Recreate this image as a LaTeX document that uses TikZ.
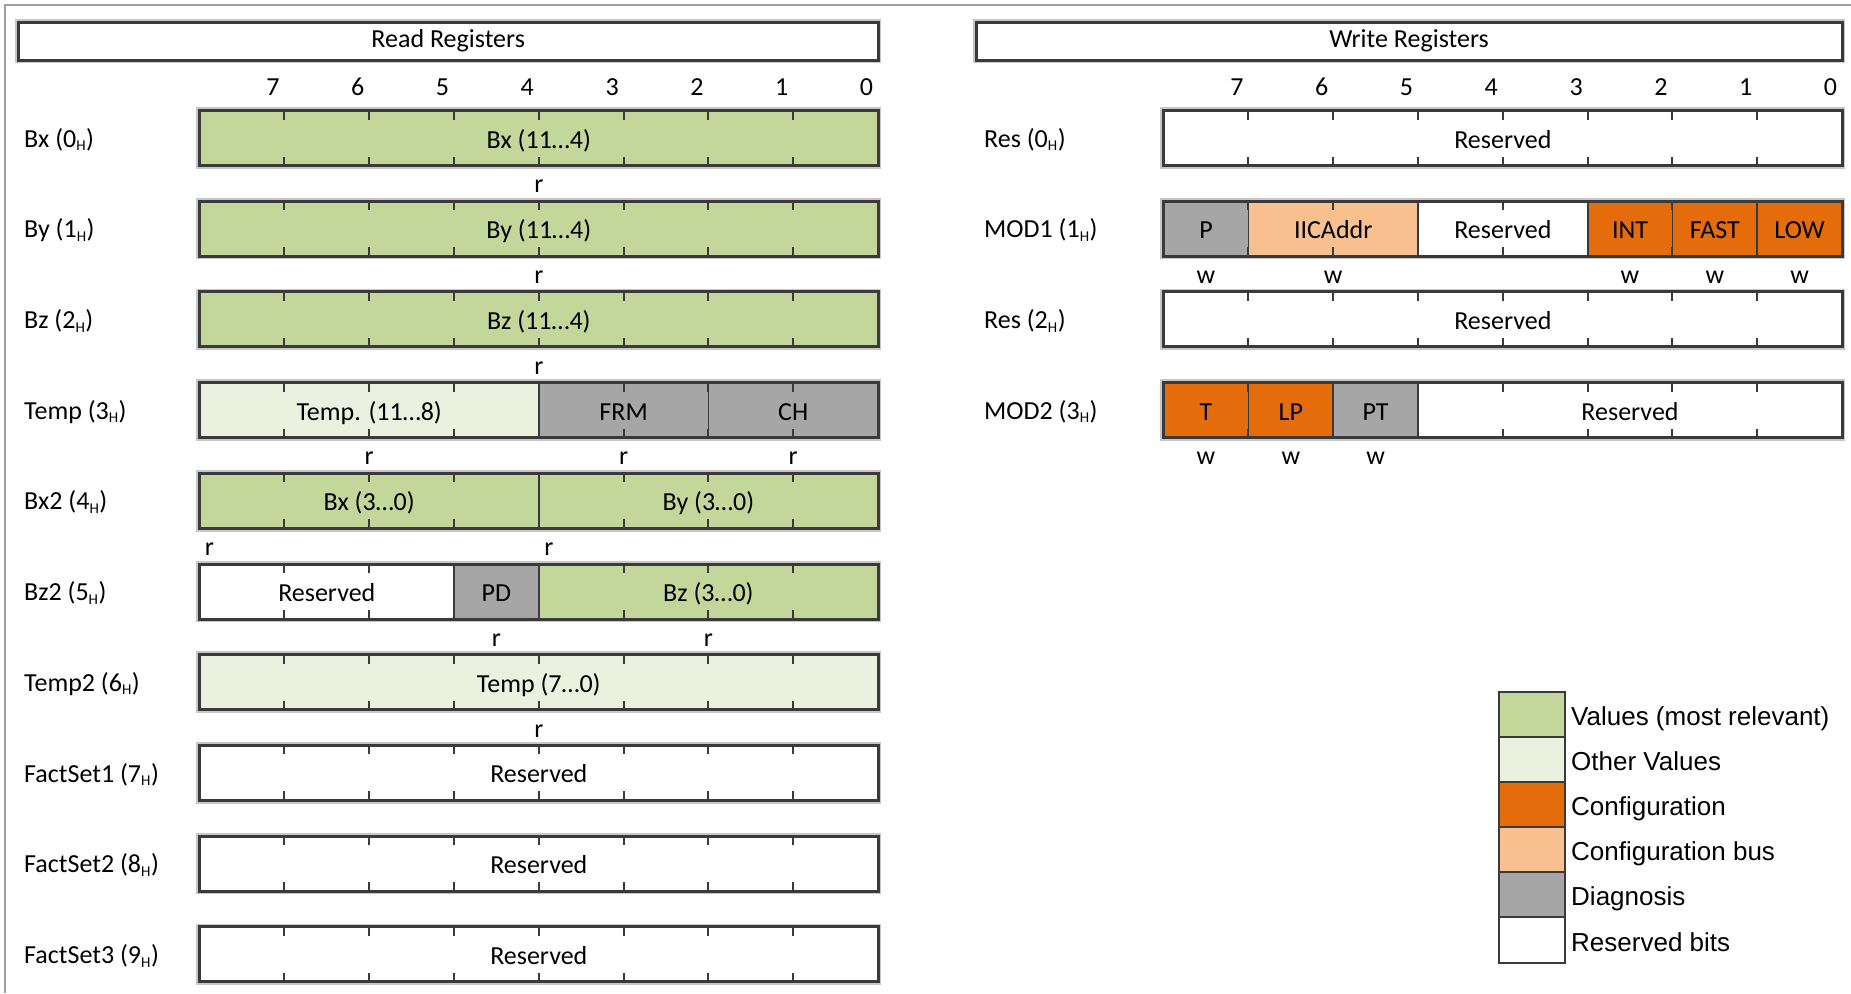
\documentclass[tikz,border=0pt]{standalone}
\usepackage{fontspec}
\setmainfont{Carlito}
\newfontfamily\legfont{Liberation Sans}
\definecolor{valg}{HTML}{C4D79B}
\definecolor{otherg}{HTML}{EBF1DE}
\definecolor{conf}{HTML}{E46C0A}
\definecolor{cbus}{HTML}{F9C08F}
\definecolor{diag}{HTML}{A6A6A6}
\definecolor{edge}{HTML}{3A3A3A}
\definecolor{frame}{HTML}{A0A0A0}

\newcommand\halobar[2]{%
  \pgfmathsetmacro\rt{110.5+90.7*#2}%
  \draw[halo] (#1,\rt) rectangle ++(678.4,55);}
\newcommand\fld[7]{%
  \pgfmathsetmacro\fx{#2+84.8*(#4+#5/2)}%
  \pgfmathsetmacro\fy{110.5+90.7*#3+27.5}%
  \pgfmathsetmacro\fw{84.8*#5}%
  \node[fieldbox, fill=#6, minimum width=\fw pt, minimum height=55pt] (#1) at (\fx,\fy) {#7};}
\newcommand\frm[2]{%
  \pgfmathsetmacro\rt{110.5+90.7*#2}%
  \foreach \k in {1,...,7}{%
    \draw[tickline] (#1+84.8*\k,\rt) -- ++(0,9);
    \draw[tickline] (#1+84.8*\k,\rt+55) -- ++(0,-9);}
  \draw[barline] (#1,\rt) rectangle ++(678.4,55);}
\newcommand\rlbl[3]{% name, x, row
  \pgfmathsetmacro\ly{186.5+90.7*#3}%
  \node[txt] (#1) at (#2,\ly) {r};}
\newcommand\wlbl[3]{%
  \pgfmathsetmacro\ly{277.2+90.7*(#3-1)}%
  \node[txt] (#1) at (#2,\ly) {w};}
\newcommand\rowlbl[4]{% name, x, row, text
  \pgfmathsetmacro\ly{139.5+90.7*#3}%
  \node[txt, anchor=west] (#1) at (#2,\ly) {#4};}
\newcommand\Hs{\textsubscript{\fontsize{15}{15}\selectfont H}}

\begin{document}
\begin{tikzpicture}[x=1pt,y=-1pt,
  txt/.style={font=\fontsize{26}{31}\selectfont, inner sep=0pt},
  fieldbox/.style={draw=edge, line width=1.8pt, inner sep=0pt, txt, text height=22pt, text depth=2pt},
  tickline/.style={draw=edge, line width=2pt},
  halo/.style={draw=black!22, line width=6.5pt},
  barline/.style={draw=edge, line width=3pt},
  legbox/.style={draw=edge, line width=2pt, minimum width=66pt, minimum height=45.1pt, inner sep=0pt},
  legtxt/.style={font=\legfont\fontsize{26}{31}\selectfont, inner sep=0pt, anchor=base west}]
\useasboundingbox (0,0) rectangle (1851,993);
\fill[white] (0,0) rectangle (1851,993);
% outer frame
\draw[frame, line width=2pt] (4.5,993) -- (4.5,5) -- (1851,5);

% title boxes
\draw[halo] (18.4,22) rectangle (878,60);
\draw[halo] (976,22) rectangle (1842,60);
\node[draw=edge, line width=3pt, fill=white, minimum width=859.6pt, minimum height=38pt, txt] (readtitle) at (448.2,41) {Read Registers};
\node[draw=edge, line width=3pt, fill=white, minimum width=866pt, minimum height=38pt, txt] (writetitle) at (1409,41) {Write Registers};

% bit numbers
\foreach \k/\b in {1/7,2/6,3/5,4/4,5/3,6/2,7/1,8/0}{
  \node[txt] (rb\b) at (199.6+84.8*\k-11.5,87) {\b};
  \node[txt] (wb\b) at (1163.6+84.8*\k-11.5,87) {\b};
}

% halos
\foreach \r in {0,...,9}{\halobar{199.6}{\r}}
\foreach \r in {0,...,3}{\halobar{1163.6}{\r}}

% ---- read registers ----
\fld{fBx}{199.6}{0}{0}{8}{valg}{Bx (11…4)}
\fld{fBy}{199.6}{1}{0}{8}{valg}{By (11…4)}
\fld{fBz}{199.6}{2}{0}{8}{valg}{Bz (11…4)}
\fld{fTemp}{199.6}{3}{0}{4}{otherg}{Temp. (11…8)}
\fld{fFRM}{199.6}{3}{4}{2}{diag}{FRM}
\fld{fCH}{199.6}{3}{6}{2}{diag}{CH}
\fld{fBxl}{199.6}{4}{0}{4}{valg}{Bx (3…0)}
\fld{fByl}{199.6}{4}{4}{4}{valg}{By (3…0)}
\fld{fRes5}{199.6}{5}{0}{3}{white}{Reserved}
\fld{fPD}{199.6}{5}{3}{1}{diag}{PD}
\fld{fBzl}{199.6}{5}{4}{4}{valg}{Bz (3…0)}
\fld{fTempl}{199.6}{6}{0}{8}{otherg}{Temp (7…0)}
\fld{fFS1}{199.6}{7}{0}{8}{white}{Reserved}
\fld{fFS2}{199.6}{8}{0}{8}{white}{Reserved}
\fld{fFS3}{199.6}{9}{0}{8}{white}{Reserved}
\foreach \r in {0,...,9}{\frm{199.6}{\r}}

% ---- write registers ----
\fld{wRes0}{1163.6}{0}{0}{8}{white}{Reserved}
\fld{wP}{1163.6}{1}{0}{1}{diag}{P}
\fld{wIIC}{1163.6}{1}{1}{2}{cbus}{IICAddr}
\fld{wRes1}{1163.6}{1}{3}{2}{white}{Reserved}
\fld{wINT}{1163.6}{1}{5}{1}{conf}{INT}
\fld{wFAST}{1163.6}{1}{6}{1}{conf}{FAST}
\fld{wLOW}{1163.6}{1}{7}{1}{conf}{LOW}
\fld{wRes2}{1163.6}{2}{0}{8}{white}{Reserved}
\fld{wT}{1163.6}{3}{0}{1}{conf}{T}
\fld{wLP}{1163.6}{3}{1}{1}{conf}{LP}
\fld{wPT}{1163.6}{3}{2}{1}{diag}{PT}
\fld{wRes3}{1163.6}{3}{3}{5}{white}{Reserved}
\foreach \r in {0,...,3}{\frm{1163.6}{\r}}

% row labels
\rowlbl{lBx}{24}{0}{Bx (0\Hs)}
\rowlbl{lBy}{24}{1}{By (1\Hs)}
\rowlbl{lBz}{24}{2}{Bz (2\Hs)}
\rowlbl{lTemp}{24}{3}{Temp (3\Hs)}
\rowlbl{lBx2}{24}{4}{Bx2 (4\Hs)}
\rowlbl{lBz2}{24}{5}{Bz2 (5\Hs)}
\rowlbl{lTemp2}{24}{6}{Temp2 (6\Hs)}
\rowlbl{lFS1}{24}{7}{FactSet1 (7\Hs)}
\rowlbl{lFS2}{24}{8}{FactSet2 (8\Hs)}
\rowlbl{lFS3}{24}{9}{FactSet3 (9\Hs)}
\rowlbl{lRes0}{984}{0}{Res (0\Hs)}
\rowlbl{lMOD1}{984}{1}{MOD1 (1\Hs)}
\rowlbl{lRes2}{984}{2}{Res (2\Hs)}
\rowlbl{lMOD2}{984}{3}{MOD2 (3\Hs)}

% access labels
\rlbl{r0}{539}{0}
\rlbl{r1}{539}{1}
\rlbl{r2}{539}{2}
\rlbl{r3a}{369.2}{3}
\rlbl{r3b}{623.6}{3}
\rlbl{r3c}{793.2}{3}
\rlbl{r4a}{209.5}{4}
\rlbl{r4b}{549}{4}
\rlbl{r5a}{496.4}{5}
\rlbl{r5b}{708.4}{5}
\rlbl{r6}{539}{6}
\wlbl{w1a}{1206}{1}
\wlbl{w1b}{1333.2}{1}
\wlbl{w1c}{1630}{1}
\wlbl{w1d}{1714.8}{1}
\wlbl{w1e}{1799.6}{1}
\wlbl{w3a}{1206}{3}
\wlbl{w3b}{1290.8}{3}
\wlbl{w3c}{1375.6}{3}

% legend
\foreach \i/\c/\t in {0/valg/Values (most relevant),1/otherg/Other Values,2/conf/Configuration,3/cbus/Configuration bus,4/diag/Diagnosis,5/white/Reserved bits}{
  \node[legbox, fill=\c] (lgb\i) at (1532,714.5+45.1*\i) {};
  \node[legtxt] (lgt\i) at (1571,725.5+45.1*\i) {\t};
}
\end{tikzpicture}
\end{document}
